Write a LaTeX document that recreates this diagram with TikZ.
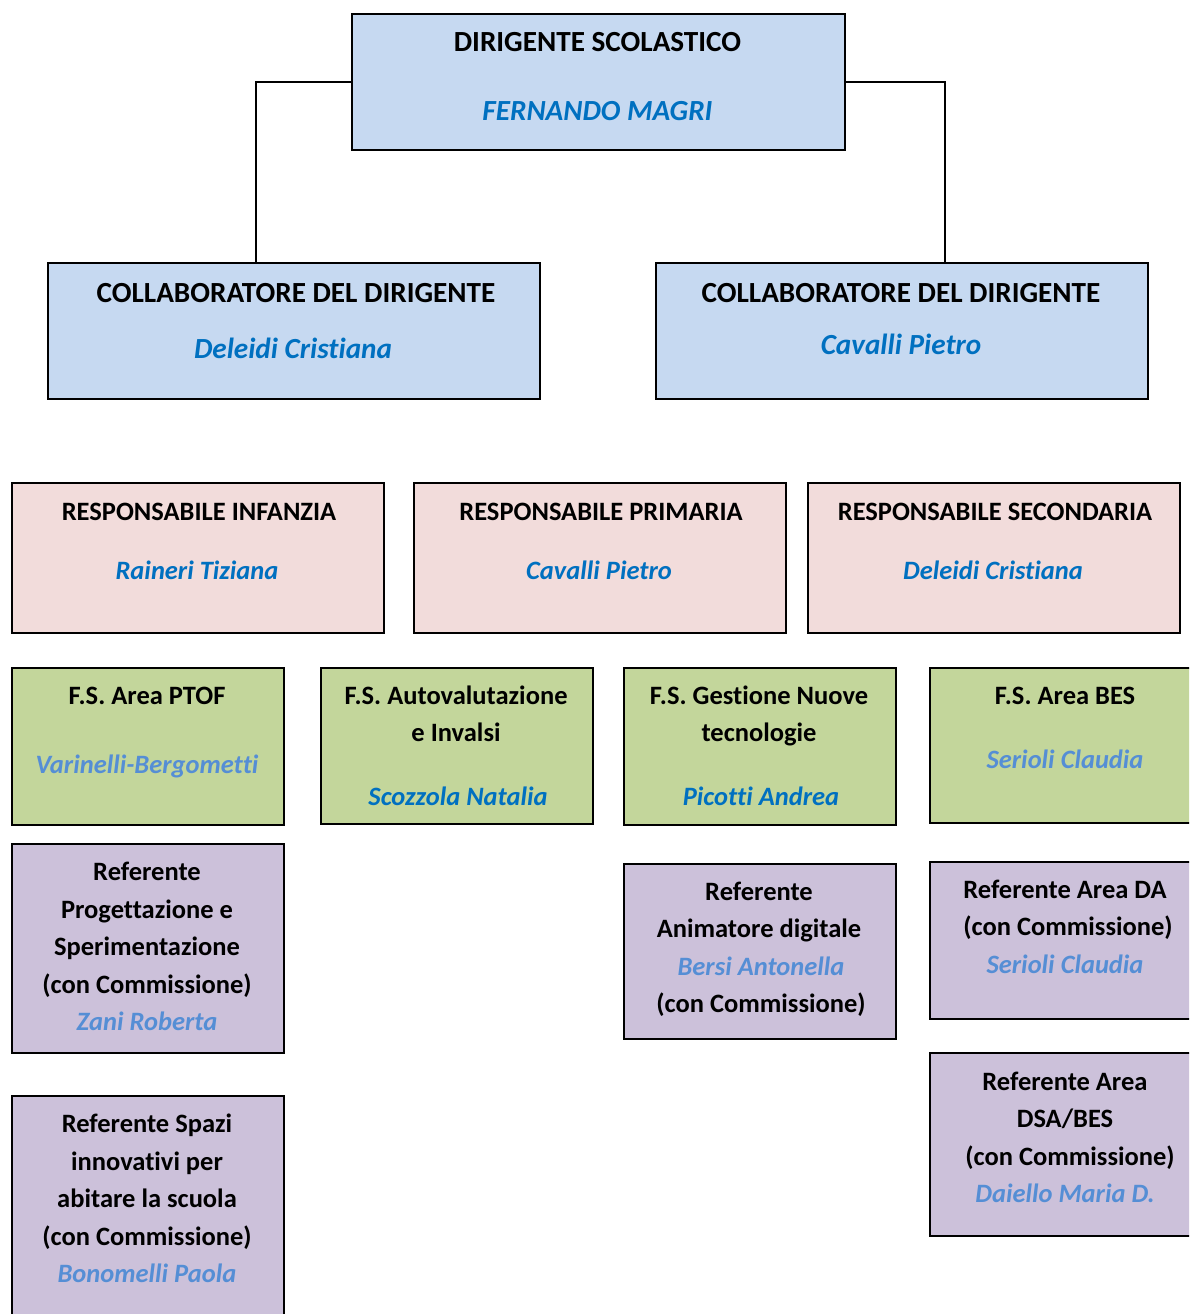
\documentclass[tikz,border=0pt]{standalone}
\usepackage{fontspec}
\setmainfont{Carlito}[RawFeature={-liga;-clig;-dlig;-calt}]
\definecolor{fillblue}{HTML}{C6D9F1}
\definecolor{fillpink}{HTML}{F2DCDB}
\definecolor{fillgreen}{HTML}{C3D69B}
\definecolor{fillviolet}{HTML}{CCC1DA}
\definecolor{namedark}{HTML}{0070C0}
\definecolor{namelight}{HTML}{558ED5}
\tikzset{
  box/.style={draw=black, line width=1.8pt, anchor=north west, inner sep=0pt},
  bigtxt/.style={anchor=base, font=\fontsize{29.2}{35}\selectfont\bfseries},
  bigname/.style={anchor=base, text=namedark, font=\fontsize{29.2}{35}\selectfont\bfseries\itshape},
  txt/.style={anchor=base, font=\fontsize{26.5}{37}\selectfont\bfseries},
  pname/.style={anchor=base, text=namedark, font=\fontsize{26.5}{37}\selectfont\bfseries\itshape},
  lname/.style={pname, text=namelight},
  link/.style={draw=black, line width=1.4pt}
}
\begin{document}
\begin{tikzpicture}[x=1pt,y=-1pt]
\useasboundingbox (0,0) rectangle (1189,1314);
\clip (0,0) rectangle (1189,1314);
% top level
\node[box, fill=fillblue, minimum width=493, minimum height=136] (dir) at (351,13) {};
\node[bigtxt] (dirT) at (597.5,52) {DIRIGENTE SCOLASTICO};
\node[bigname] (dirN) at (597.5,120) {FERNANDO MAGRI};
\node[box, fill=fillblue, minimum width=492, minimum height=136] (colL) at (47,262) {};
\node[bigtxt] (colLT) at (296,302) {COLLABORATORE DEL DIRIGENTE};
\node[bigname] (colLN) at (293,358) {Deleidi Cristiana};
\node[box, fill=fillblue, minimum width=492, minimum height=136] (colR) at (655,262) {};
\node[bigtxt] (colRT) at (901,302) {COLLABORATORE DEL DIRIGENTE};
\node[bigname] (colRN) at (901,354) {Cavalli Pietro};
\coordinate (jL) at (256,262);
\coordinate (jR) at (945,262);
\draw[link] (dir.west) -| (jL);
\draw[link] (dir.east) -| (jR);
% responsabili
\foreach \n/\x/\t/\p in {inf/11/INFANZIA/Raineri Tiziana,pri/413/PRIMARIA/Cavalli Pietro,sec/807/SECONDARIA/Deleidi Cristiana} {
  \node[box, fill=fillpink, minimum width=372, minimum height=150] (\n) at (\x,482) {};
  \node[txt] (\n T) at (\x+188,520) {RESPONSABILE \t};
  \node[pname] (\n N) at (\x+186,579) {\p};
}
% funzioni strumentali
\node[box, fill=fillgreen, minimum width=272, minimum height=157] (ptof) at (11,667) {};
\node[txt] (ptofT) at (147,704) {F.S. Area PTOF};
\node[lname] (ptofN) at (147,773) {Varinelli-Bergometti};
\node[box, fill=fillgreen, minimum width=272, minimum height=156] (auto) at (320,667) {};
\node[txt] (autoT1) at (456,704) {F.S. Autovalutazione};
\node[txt] (autoT2) at (456,741) {e Invalsi};
\node[pname] (autoN) at (458,805) {Scozzola Natalia};
\node[box, fill=fillgreen, minimum width=272, minimum height=157] (tec) at (623,667) {};
\node[txt] (tecT1) at (759,704) {F.S. Gestione Nuove};
\node[txt] (tecT2) at (759,741) {tecnologie};
\node[pname] (tecN) at (761,805) {Picotti Andrea};
\node[box, fill=fillgreen, minimum width=272, minimum height=155] (bes) at (929,667) {};
\node[txt] (besT) at (1065,704) {F.S. Area BES};
\node[lname] (besN) at (1065,768) {Serioli Claudia};
% referenti
\node[box, fill=fillviolet, minimum width=272, minimum height=209] (prog) at (11,843) {};
\foreach \t [count=\i] in {Referente,Progettazione e,Sperimentazione,(con Commissione)}
  \node[txt] (prog\i) at (147,843+37.5*\i) {\t};
\node[lname] (progN) at (147,1030) {Zani Roberta};
\node[box, fill=fillviolet, minimum width=272, minimum height=175] (anim) at (623,863) {};
\node[txt] (anim1) at (759,900) {Referente};
\node[txt] (anim2) at (759,937) {Animatore digitale};
\node[lname] (animN) at (761,975) {Bersi Antonella};
\node[txt] (anim3) at (761,1012) {(con Commissione)};
\node[box, fill=fillviolet, minimum width=272, minimum height=157] (da) at (929,861) {};
\node[txt] (da1) at (1065,898) {Referente Area DA};
\node[txt] (da2) at (1068,935) {(con Commissione)};
\node[lname] (daN) at (1065,973) {Serioli Claudia};
\node[box, fill=fillviolet, minimum width=272, minimum height=240] (spazi) at (11,1095) {};
\foreach \t [count=\i] in {Referente Spazi,innovativi per,abitare la scuola,(con Commissione)}
  \node[txt] (spazi\i) at (147,1095+37.5*\i) {\t};
\node[lname] (spaziN) at (147,1282) {Bonomelli Paola};
\node[box, fill=fillviolet, minimum width=272, minimum height=183] (dsa) at (929,1052) {};
\node[txt] (dsa1) at (1065,1090) {Referente Area};
\node[txt] (dsa2) at (1065,1127) {DSA/BES};
\node[txt] (dsa3) at (1070,1165) {(con Commissione)};
\node[lname] (dsaN) at (1065,1202) {Daiello Maria D.};
\end{tikzpicture}
\end{document}
